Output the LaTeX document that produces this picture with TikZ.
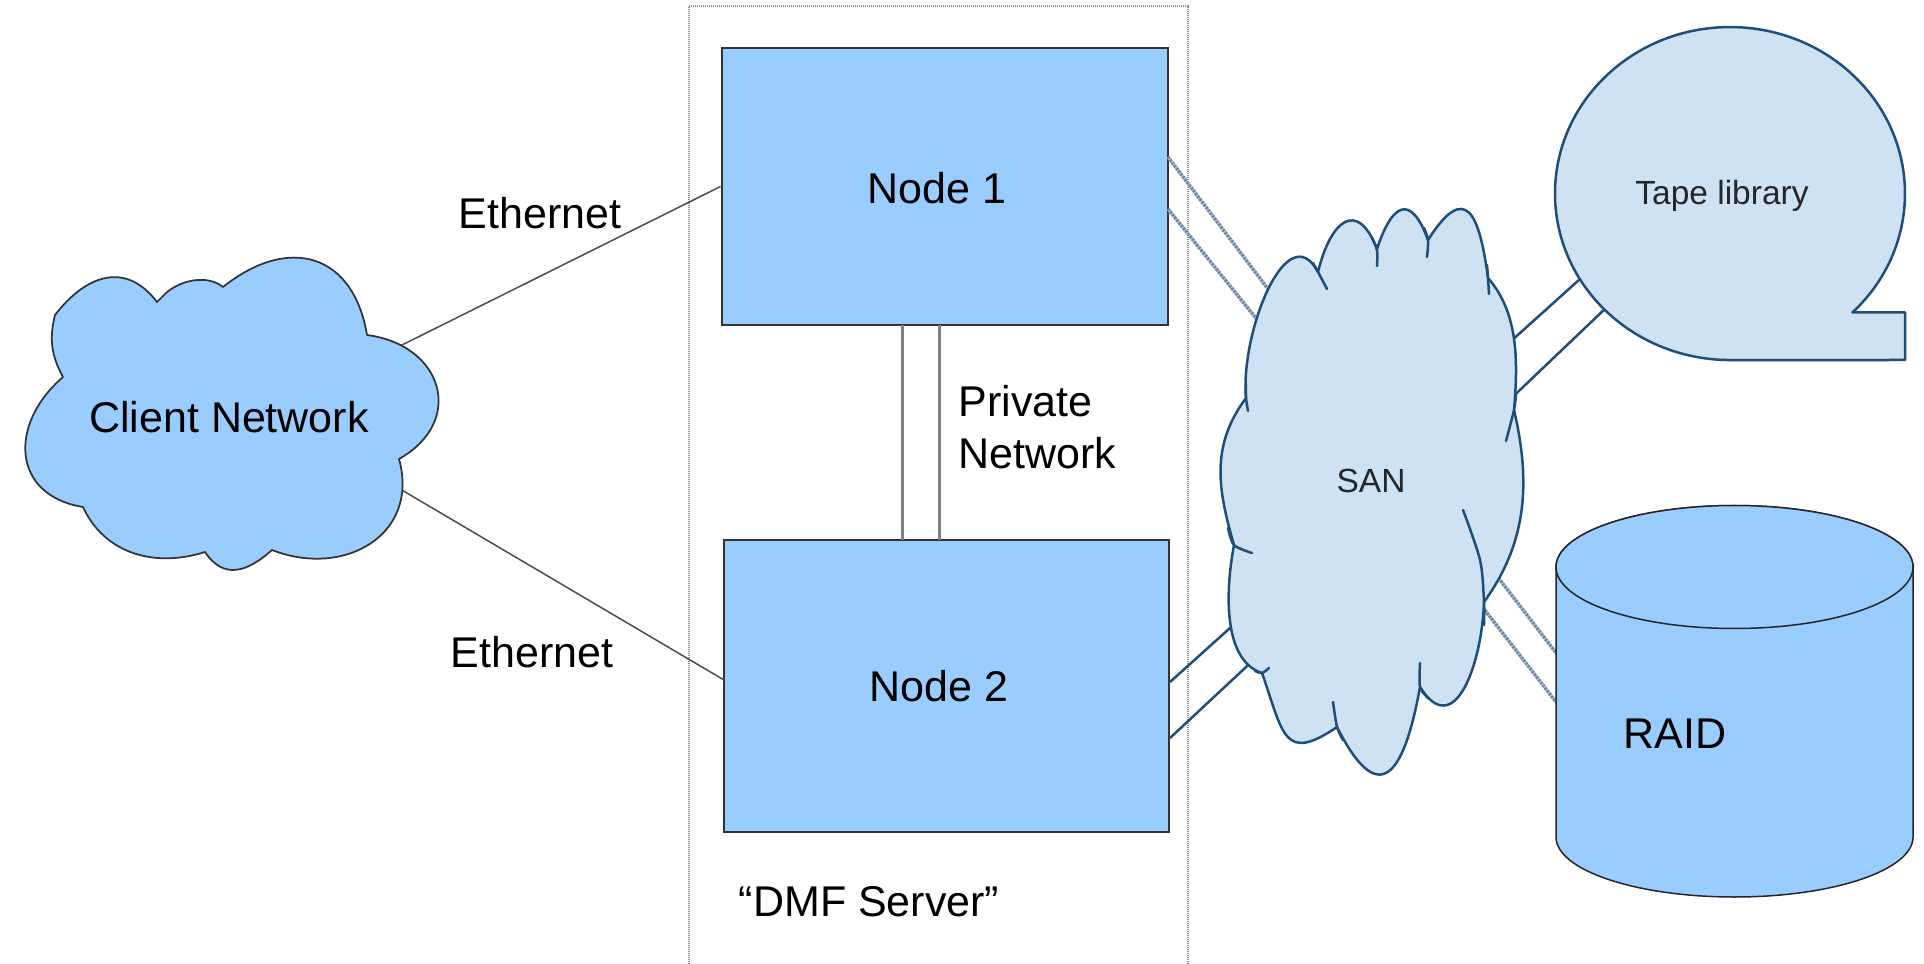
\documentclass[tikz,border=0pt]{standalone}
\usepackage{fontspec}
\setmainfont{Liberation Sans}
\usetikzlibrary{calc}
\definecolor{nodeblue}{HTML}{99CCFF}
\definecolor{sanfill}{HTML}{CFE2F3}
\definecolor{sanline}{HTML}{1F4E79}
\definecolor{hatchdark}{HTML}{6A83A0}
\definecolor{hatchlight}{HTML}{B4C3D3}
\begin{document}
\begin{tikzpicture}[x=0.4pt,y=-0.4pt,
  bigtext/.style={font=\fontsize{17.2}{20.8}\selectfont, inner sep=0pt},
  smalltext/.style={font=\fontsize{13.4}{16}\selectfont, text=black!85, inner sep=0pt},
  nodebox/.style={draw=black!80, line width=0.8pt, fill=nodeblue, inner sep=0pt},
  ethline/.style={draw=black!70, line width=0.6pt},
  privline/.style={draw=black!50, line width=1.2pt},
  sanlink/.style={draw=sanline, line width=1pt},
  hatchlink/.style={draw=hatchdark, line width=1.3pt, dash pattern=on 0.8pt off 0.6pt},
  hatchbase/.style={draw=hatchlight, line width=1.3pt},
  cloudA/.style={fill=nodeblue, draw=black!80, line width=0.7pt, line join=round},
  cloudB/.style={fill=sanfill, draw=sanline, line width=1pt, line join=round},
  sanhook/.style={draw=sanline, line width=1pt, line cap=round},
  raidstyle/.style={fill=nodeblue, draw=black!85, line width=0.6pt},
  serverbox/.style={draw=black!45, line width=0.7pt, dash pattern=on 0.5pt off 0.3pt},
  bulge/.style n args={4}{to path={.. controls ($(\tikztostart)!#2!#1:(\tikztotarget)$) and ($(\tikztotarget)!#4!-#3:(\tikztostart)$) .. (\tikztotarget)}}
]
\useasboundingbox (0,0) rectangle (1924,964);

% DMF server frame
\coordinate (sbl) at (689,964);
\coordinate (stl) at (689,6);
\coordinate (str) at (1188,6);
\coordinate (sbr) at (1188,964);
\draw[serverbox] (sbl) -- (stl) -- (str) -- (sbr);

% connector end points
\coordinate (ec1) at (400,346);
\coordinate (ec2) at (395,486);
\coordinate (en2) at (724,680);
\coordinate (pa1) at (902,325);
\coordinate (pa2) at (902,540);
\coordinate (pb1) at (939,325);
\coordinate (pb2) at (939,540);
\coordinate (h1a) at (1168,157);
\coordinate (h1b) at (1290,318);
\coordinate (h2a) at (1168,209);
\coordinate (h2b) at (1280,348);
\coordinate (s1a) at (1170,682);
\coordinate (s1b) at (1240,619);
\coordinate (s2a) at (1170,738);
\coordinate (s2b) at (1260,654);
\coordinate (t1a) at (1500,351);
\coordinate (t1b) at (1600,261);
\coordinate (t2a) at (1500,409);
\coordinate (t2b) at (1630,285);
\coordinate (r1a) at (1490,567);
\coordinate (r1b) at (1570,671);
\coordinate (r2a) at (1470,591);
\coordinate (r2b) at (1570,720);

% nodes
\node[nodebox, minimum width=178.4pt, minimum height=110.8pt] (n1) at (944.5,186.5) {};
\node[nodebox, minimum width=178pt, minimum height=116.8pt] (n2) at (946.5,686) {};

% connectors
\draw[ethline] (ec1) -- (n1.west);
\draw[ethline] (ec2) -- (en2);
\draw[privline] (pa1) -- (pa2);
\draw[privline] (pb1) -- (pb2);
\draw[hatchbase] (h1a) -- (h1b);
\draw[hatchlink] (h1a) -- (h1b);
\draw[hatchbase] (h2a) -- (h2b);
\draw[hatchlink] (h2a) -- (h2b);
\draw[sanlink] (s1a) -- (s1b);
\draw[sanlink] (s2a) -- (s2b);
\draw[sanlink] (t1a) -- (t1b);
\draw[sanlink] (t2a) -- (t2b);
\draw[hatchbase] (r1a) -- (r1b);
\draw[hatchlink] (r1a) -- (r1b);
\draw[hatchbase] (r2a) -- (r2b);
\draw[hatchlink] (r2a) -- (r2b);

% client network cloud
\draw[cloudA] (63,377)
  to[bulge={21}{.4}{21}{.4}] (55,315)
  to[bulge={45}{.5}{60}{.5}] (157,302)
  -- (166,293)
  to[bulge={35}{.35}{45}{.35}] (223,287)
  to[bulge={57}{.55}{62}{.55}] (367,335)
  to[bulge={68}{.6}{75}{.6}] (399,459)
  to[bulge={70}{.5}{57}{.5}] (272,550)
  to[bulge={40}{.5}{58}{.5}] (205,552)
  to[bulge={38}{.4}{45}{.4}] (83,507)
  to[bulge={72}{.55}{58}{.55}] (63,377)
  -- cycle;

% SAN cloud
\draw[cloudB] (1246,398)
  to[bulge={35}{.45}{122}{.45}] (1318,272)
  to[bulge={55}{.85}{90}{.85}] (1377,249)
  to[bulge={62}{.95}{80}{.95}] (1428,240)
  to[bulge={90}{1.0}{50}{.9}] (1488,278)
  to[bulge={30}{.35}{16}{.35}] (1514,410)
  to[bulge={22}{.38}{27}{.38}] (1484,602)
  to[bulge={35}{.6}{111}{.6}] (1420,687)
  to[bulge={54}{1.0}{89}{1.0}] (1337,727)
  to[bulge={70}{.7}{35}{.7}] (1262,673)
  to[bulge={60}{.3}{23}{.4}] (1234,545)
  to[bulge={21}{.4}{32}{.4}] (1246,398)
  -- cycle;
\draw[sanhook] plot[smooth] coordinates {(1246,385) (1246,398) (1248,411)};
\draw[sanhook] plot[smooth] coordinates {(1313,263) (1318,272) (1327,289)};
\draw[sanhook] plot[smooth] coordinates {(1372,238) (1377,250) (1377,266)};
\draw[sanhook] plot[smooth] coordinates {(1424,228) (1428,240) (1427,257)};
\draw[sanhook] plot[smooth] coordinates {(1487,265) (1488,278) (1489,294)};
\draw[sanhook] plot[smooth] coordinates {(1516,395) (1514,410) (1506,441)};
\draw[sanhook] plot[smooth] coordinates {(1484,625) (1484,602) (1480,560) (1463,510)};
\draw[sanhook] plot[smooth] coordinates {(1428,698) (1420,687) (1420,663)};
\draw[sanhook] plot[smooth] coordinates {(1343,740) (1337,727) (1333,702)};
\draw[sanhook] plot[smooth] coordinates {(1255,671) (1262,673) (1269,668)};
\draw[sanhook] plot[smooth] coordinates {(1228,528) (1234,545) (1252,553)};

% tape library
\draw[cloudB] (1852.4,312.5) arc[start angle=45.6, end angle=-270, x radius=175, y radius=166.5]
  -- (1905,360) -- (1905,312.5) -- cycle;

% RAID
\draw[raidstyle] (1556,567) -- (1556,837) arc[start angle=180, end angle=0, x radius=178.5, y radius=60]
  -- (1913,567) arc[start angle=0, end angle=-180, x radius=178.5, y radius=61.5] -- cycle;
\draw[raidstyle] (1734.5,567) ellipse [x radius=178.5, y radius=61.5];

% texts
\node[bigtext] (n1t) at (937,188) {Node 1};
\node[bigtext] (n2t) at (939,686) {Node 2};
\node[bigtext] (clienttxt) at (229,417) {Client Network};
\node[bigtext] (eth1) at (540,213) {Ethernet};
\node[bigtext] (eth2) at (532,652) {Ethernet};
\node[bigtext, align=left, anchor=west] (privtxt) at (958,427) {Private\\Network};
\node[bigtext] (dmftxt) at (869,902) {“DMF Server”};
\node[bigtext] (raidtxt) at (1675,734) {RAID};
\node[smalltext, anchor=base] (santxt) at (1371,493) {SAN};
\node[smalltext, anchor=base] (tapetxt) at (1722,205) {Tape library};
\end{tikzpicture}
\end{document}
